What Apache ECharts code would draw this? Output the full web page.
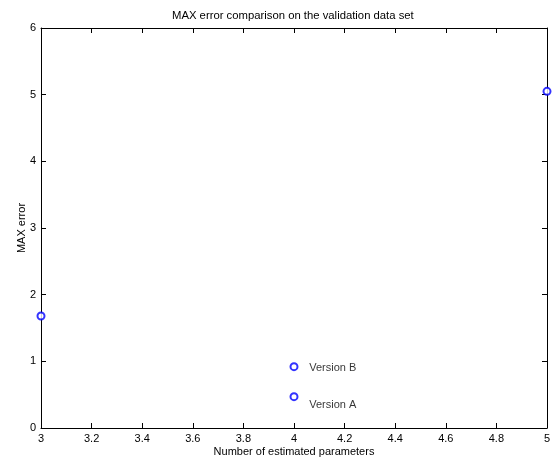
<!DOCTYPE html>
<html><head><meta charset="utf-8">
<script src="https://cdn.jsdelivr.net/npm/echarts@6/dist/echarts.min.js"></script>
<style>html,body{margin:0;padding:0;background:#fff}#c{width:557px;height:458px}</style>
</head><body><div id="c"></div>
<script>
var titleText = 'MAX error comparison on the validation data set';
var xName = 'Number of estimated parameters';
var yName = 'MAX error';
var seriesPoints = [[3, 1.68], [5, 5.05]];
var markerPoints = [[4, 0.92], [4, 0.47]];
var labelTexts = ['Version B', 'Version A'];
var labelPoints = [[4.06, 0.90], [4.06, 0.35]];
var xMin = 3, xMax = 5, xStep = 0.2;
var yMin = 0, yMax = 6, yStep = 1;

var font = 'Liberation Sans, Arial, Helvetica, sans-serif';
var chart = echarts.init(document.getElementById('c'));
function axisBase(pos, showLabel) {
  return {
    type: 'value', position: pos,
    axisLine: {show: true, onZero: false, lineStyle: {color: '#000', width: 1}},
    axisTick: {show: true, inside: true, length: 5, lineStyle: {color: '#000'}},
    axisLabel: {show: showLabel, color: '#000', fontFamily: font, fontSize: 11},
    splitLine: {show: false}
  };
}
var xb = Object.assign(axisBase('bottom', true), {
  min: xMin, max: xMax, interval: xStep,
  name: xName, nameLocation: 'middle', nameGap: 18, nameMoveOverlap: false,
  nameTextStyle: {color: '#000', fontFamily: font, fontSize: 11},
  axisLabel: {show: true, color: '#000', fontFamily: font, fontSize: 11, margin: 5,
    formatter: function (v) { return String(Math.round(v * 10) / 10); }}
});
var xt = Object.assign(axisBase('top', false), {min: xMin, max: xMax, interval: xStep});
var yl = Object.assign(axisBase('left', true), {
  min: yMin, max: yMax, interval: yStep,
  name: yName, nameLocation: 'middle', nameGap: 14, nameRotate: 90, nameMoveOverlap: false,
  nameTextStyle: {color: '#000', fontFamily: font, fontSize: 11},
  axisLabel: {show: true, color: '#000', fontFamily: font, fontSize: 11, margin: 5}
});
var yr = Object.assign(axisBase('right', false), {min: yMin, max: yMax, interval: yStep});

chart.setOption({
  animation: false,
  title: {text: titleText, left: 172, top: 10, padding: 0,
    textStyle: {color: '#000', fontFamily: font, fontSize: 11.3, fontWeight: 'normal'}},
  grid: {left: 41, top: 28, width: 506, height: 400, outerBoundsMode: 'none', containLabel: false},
  xAxis: [xb, xt],
  yAxis: [yl, yr],
  series: [
    {type: 'scatter', data: seriesPoints, symbol: 'emptyCircle', symbolSize: 7,
      itemStyle: {color: '#0000ff', borderColor: '#0000ff', borderWidth: 1}, z: 5},
    {type: 'scatter', data: markerPoints, symbol: 'emptyCircle', symbolSize: 7,
      itemStyle: {color: '#0000ff', borderColor: '#0000ff', borderWidth: 1}, z: 5},
    {type: 'scatter', symbolSize: 0,
      data: labelPoints.map(function (p, i) { return {value: p, name: labelTexts[i]}; }),
      label: {show: true, position: 'right', distance: 0, formatter: '{b}',
        color: '#000', fontFamily: font, fontSize: 11}}
  ]
});
</script></body></html>
